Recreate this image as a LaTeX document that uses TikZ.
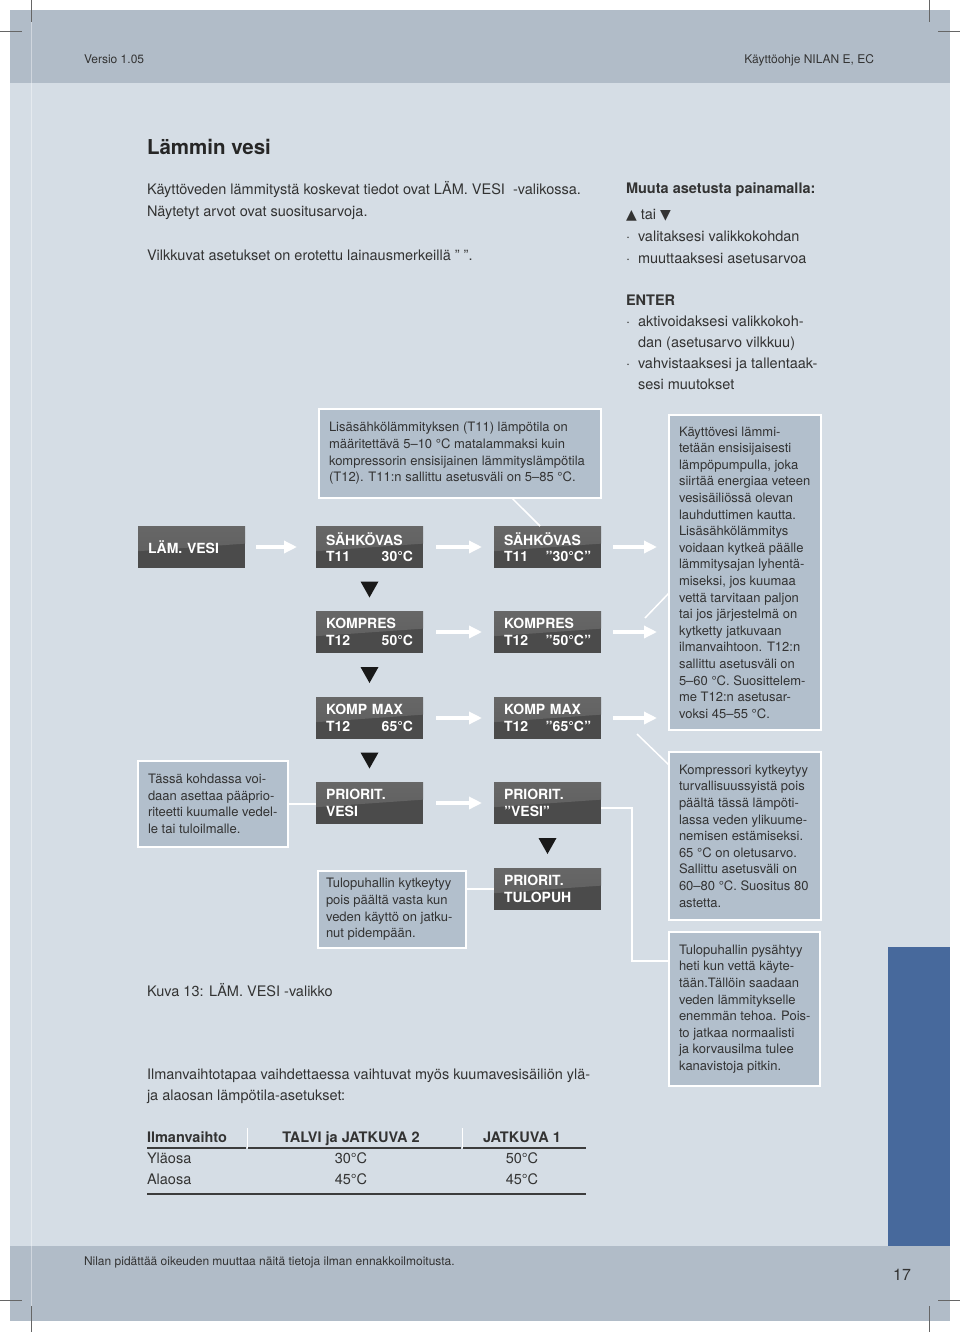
\documentclass[tikz,border=0pt]{standalone}
\usepackage{fontspec}
\setmainfont{TeX Gyre Heros}
\newfontfamily\symfont{DejaVu Sans}
\usetikzlibrary{arrows.meta,calc}
\definecolor{band}{HTML}{B1BCC8}
\definecolor{pagebg}{HTML}{D5DDE5}
\definecolor{boxfill}{HTML}{B2BFCC}
\definecolor{bluebar}{HTML}{47699C}
\definecolor{txt}{HTML}{333333}
\definecolor{dispdark}{HTML}{4B4B4B}
\definecolor{displight}{HTML}{6E6E6E}
\definecolor{rulec}{HTML}{3C3C3C}
\newcommand\dtri[2]{\fill[black!90] ($(#1.south)!0.5!(#2.north)$) ++(-9,-8) -- ++(18,0) -- ++(-9,16) -- cycle;}
\begin{document}
\begin{tikzpicture}[x=1pt,y=-1pt,
 every node/.style={inner sep=0pt, outer sep=0pt, text=txt},
 body/.style={font=\fontsize{14.5}{21}\selectfont, anchor=base west},
 bodyb/.style={font=\bfseries\fontsize{14.5}{21}\selectfont, anchor=base west},
 small/.style={font=\fontsize{12}{14}\selectfont, anchor=base west},
 tbox/.style={draw=white, line width=1.5pt, fill=boxfill, anchor=north west},
 btext/.style={anchor=west, align=left, font=\fontsize{13}{16.6}\selectfont},
 disp/.style={anchor=north west, minimum width=107pt, minimum height=42pt, inner xsep=10pt,
   text width=87pt, align=left, fill=dispdark, text=white,
   font=\bfseries\fontsize{14}{16.5}\selectfont,
   path picture={\shade[top color=displight!105, bottom color=displight!85!black]
     (path picture bounding box.north west) -- (path picture bounding box.north east)
     -- ($(path picture bounding box.north east)!0.42!(path picture bounding box.south east)$)
     -- ($(path picture bounding box.north west)!0.6!(path picture bounding box.south west)$) -- cycle;}},
 warrow/.style={draw=white, line width=3.5pt, -{Triangle[width=12pt,length=13pt]}},
 conn/.style={draw=white, line width=1.5pt},
 crop/.style={draw=black!60, line width=0.6pt}]
\useasboundingbox (0,0) rectangle (960,1332);
% page
\fill[white] (0,0) rectangle (960,1332);
\fill[pagebg] (10,10) rectangle (950,1321);
\fill[band] (10,10) rectangle (950,83);
\fill[band] (10,1246) rectangle (950,1321);
\fill[bluebar] (888,947) rectangle (950,1246);
\draw[white, opacity=0.4, line width=1pt] (31,10) -- (31,1321);
% crop marks
\draw[crop] (31,0) -- (31,22);
\draw[crop] (0,31) -- (22,31);
\draw[crop] (929,0) -- (929,22);
\draw[crop] (938,31) -- (960,31);
\draw[crop] (938,1300) -- (960,1300);
\draw[crop] (929,1306) -- (929,1332);
\draw[crop] (0,1300) -- (22,1300);
\draw[crop] (31,1306) -- (31,1332);
% header / footer
\node[small] (hdl) at (84,64) {Versio 1.05};
\node[small, anchor=base east] (hdr) at (874,64) {Käyttöohje NILAN E, EC};
\node[small] (ftr) at (84,1265) {Nilan pidättää oikeuden muuttaa näitä tietoja ilman ennakkoilmoitusta.};
\node[font=\fontsize{16}{18}\selectfont, anchor=base east] (pgno) at (911,1280) {17};
% top text
\node[font=\bfseries\fontsize{20.5}{24}\selectfont, anchor=base west, text=black!85] (title) at (147,155) {Lämmin vesi};
\node[body] (p1a) at (147,195) {Käyttöveden lämmitystä koskevat tiedot ovat LÄM. VESI\ \ -valikossa.};
\node[body] (p1b) at (147,217) {Näytetyt arvot ovat suositusarvoja.};
\node[body] (p1c) at (147,260) {Vilkkuvat asetukset on erotettu lainausmerkeillä ” ”.};
\node[bodyb] (r1) at (626,194) {Muuta asetusta painamalla:};
\node[body] (r2) at (626,220) {{\symfont\fontsize{14}{16}\selectfont ▲} tai {\symfont\fontsize{14}{16}\selectfont ▼}};
\node[body] (r3) at (626,242) {\makebox[12pt][l]{·}valitaksesi valikkokohdan};
\node[body] (r4) at (626,263) {\makebox[12pt][l]{·}muuttaaksesi asetusarvoa};
\node[bodyb] (r5) at (626,305) {ENTER};
\node[body] (r6) at (626,326) {\makebox[12pt][l]{·}aktivoidaksesi valikkokoh-};
\node[body] (r7) at (638,347) {dan (asetusarvo vilkkuu)};
\node[body] (r8) at (626,368) {\makebox[12pt][l]{·}vahvistaaksesi ja tallentaak-};
\node[body] (r9) at (638,389) {sesi muutokset};
% light text boxes
\node[tbox, minimum width=282pt, minimum height=89pt] (lisa) at (319,409) {};
\node[btext] (lisat) at ([xshift=10pt]lisa.west) {Lisäsähkölämmityksen (T11) lämpötila on\\määritettävä 5–10 °C matalammaksi kuin\\kompressorin ensisijainen lämmityslämpötila\\(T12). T11:n sallittu asetusväli on 5–85 °C.};
\node[tbox, minimum width=152pt, minimum height=315pt] (kv) at (669,415) {};
\node[btext] (kvt) at ([xshift=10pt]kv.west) {Käyttövesi lämmi-\\tetään ensisijaisesti\\lämpöpumpulla, joka\\siirtää energiaa veteen\\vesisäiliössä olevan\\lauhduttimen kautta.\\Lisäsähkölämmitys\\voidaan kytkeä päälle\\lämmitysajan lyhentä-\\miseksi, jos kuumaa\\vettä tarvitaan paljon\\tai jos järjestelmä on\\kytketty jatkuvaan\\ilmanvaihtoon. T12:n\\sallittu asetusväli on\\5–60 °C. Suosittelem-\\me T12:n asetusar-\\voksi 45–55 °C.};
\node[tbox, minimum width=152pt, minimum height=168pt] (kmp) at (669,752) {};
\node[btext] (kmpt) at ([xshift=10pt]kmp.west) {Kompressori kytkeytyy\\turvallisuussyistä pois\\päältä tässä lämpöti-\\lassa veden ylikuume-\\nemisen estämiseksi.\\65 °C on oletusarvo.\\Sallittu asetusväli on\\60–80 °C. Suositus 80\\astetta.};
\node[tbox, minimum width=151pt, minimum height=154pt] (tp2) at (669,932) {};
\node[btext] (tp2t) at ([xshift=10pt]tp2.west) {Tulopuhallin pysähtyy\\heti kun vettä käyte-\\tään.Tällöin saadaan\\veden lämmitykselle\\enemmän tehoa. Pois-\\to jatkaa normaalisti\\ja korvausilma tulee\\kanavistoja pitkin.};
\node[tbox, minimum width=150pt, minimum height=86pt] (tassa) at (138,761) {};
\node[btext] (tassat) at ([xshift=10pt]tassa.west) {Tässä kohdassa voi-\\daan asettaa pääprio-\\riteetti kuumalle vedel-\\le tai tuloilmalle.};
\node[tbox, minimum width=148pt, minimum height=77pt] (tp1) at (318,871) {};
\node[btext] (tp1t) at ([xshift=8pt]tp1.west) {Tulopuhallin kytkeytyy\\pois päältä vasta kun\\veden käyttö on jatku-\\nut pidempään.};
% display boxes
\node[disp] (lv) at (138,526) {LÄM. VESI};
\node[disp] (s1) at (316,526) {SÄHKÖVAS\\T11\hspace{0pt plus 1filll}30°C};
\node[disp] (s2) at (494,526) {SÄHKÖVAS\\T11\hspace{0pt plus 1filll}”30°C”};
\node[disp] (k1) at (316,611) {KOMPRES\\T12\hspace{0pt plus 1filll}50°C};
\node[disp] (k2) at (494,611) {KOMPRES\\T12\hspace{0pt plus 1filll}”50°C”};
\node[disp] (m1) at (316,697) {KOMP MAX\\T12\hspace{0pt plus 1filll}65°C};
\node[disp] (m2) at (494,697) {KOMP MAX\\T12\hspace{0pt plus 1filll}”65°C”};
\node[disp] (p1) at (316,782) {PRIORIT.\\VESI};
\node[disp] (p2) at (494,782) {PRIORIT.\\”VESI”};
\node[disp] (p3) at (494,868) {PRIORIT.\\TULOPUH};
% down triangles
\dtri{s1}{k1}
\dtri{k1}{m1}
\dtri{m1}{p1}
\dtri{p2}{p3}
% white arrows
\draw[warrow, shorten <=11pt, shorten >=19pt] (lv.east) -- (s1.west);
\draw[warrow, shorten <=13pt, shorten >=12pt] (s1.east) -- (s2.west);
\draw[warrow, shorten <=13pt, shorten >=12pt] (k1.east) -- (k2.west);
\draw[warrow, shorten <=13pt, shorten >=12pt] (m1.east) -- (m2.west);
\draw[warrow, shorten <=13pt, shorten >=12pt] (p1.east) -- (p2.west);
\draw[warrow, shorten <=12pt, shorten >=12pt] (s2.east) -- (s2.east -| kv.west);
\draw[warrow, shorten <=12pt, shorten >=12pt] (k2.east) -- (k2.east -| kv.west);
\draw[warrow, shorten <=12pt, shorten >=12pt] (m2.east) -- (m2.east -| kv.west);
% thin connectors
\draw[conn] ($(lisa.south west)!0.684!(lisa.south east)$) -- ($(s2.north west)!0.43!(s2.north east)$);
\coordinate (kvc) at (645,618);
\draw[conn] (kvc) -- ([yshift=-178pt]kv.north west);
\coordinate (kmc) at (637,734);
\draw[conn] (kmc) -- ([yshift=-13pt]kmp.north west);
\draw[conn] (tassa.east) -- (tassa.east -| p1.west);
\draw[conn] (tp1.east |- p3.west) -- (p3.west);
\draw[conn] ([yshift=-5pt]p2.east) -- ++(31,0) |- ([yshift=-29pt]tp2.north west);
% caption and lower text
\node[body] (cap) at (147,996) {Kuva 13: LÄM. VESI -valikko};
\node[body] (l1) at (147,1079) {Ilmanvaihtotapaa vaihdettaessa vaihtuvat myös kuumavesisäiliön ylä-};
\node[body] (l2) at (147,1100) {ja alaosan lämpötila-asetukset:};
% table
\node[bodyb] (th1) at (147,1142) {Ilmanvaihto};
\node[bodyb, anchor=base] (th2) at (351,1142) {TALVI ja JATKUVA 2};
\node[bodyb, anchor=base] (th3) at (522,1142) {JATKUVA 1};
\node[body] (ra1) at (147,1163) {Yläosa};
\node[body, anchor=base] (ra2) at (351,1163) {30°C};
\node[body, anchor=base] (ra3) at (522,1163) {50°C};
\node[body] (rb1) at (147,1184) {Alaosa};
\node[body, anchor=base] (rb2) at (351,1184) {45°C};
\node[body, anchor=base] (rb3) at (522,1184) {45°C};
\draw[white, line width=1pt] (247,1128) -- (247,1148) (462,1128) -- (462,1148);
\draw[rulec, line width=1.8pt] (147,1148) -- (246,1148) (248,1148) -- (461,1148) (463,1148) -- (586,1148);
\draw[rulec, line width=1.8pt] (147,1194) -- (586,1194);
\end{tikzpicture}
\end{document}
